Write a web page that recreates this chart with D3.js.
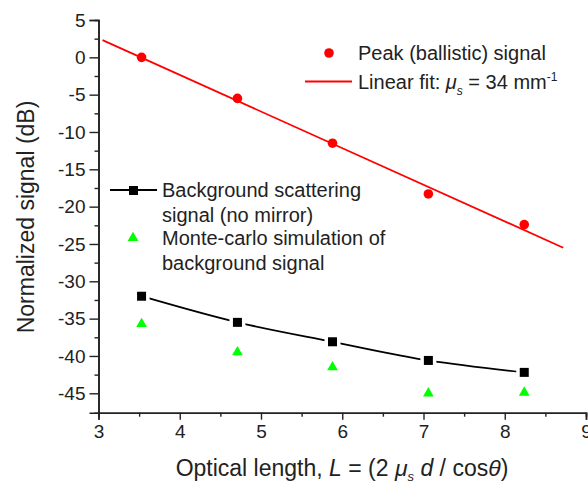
<!DOCTYPE html>
<html>
<head>
<meta charset="utf-8">
<script src="https://cdn.jsdelivr.net/npm/d3@7"></script>
<style>
  body { margin: 0; background: #fff; }
  svg { display: block; font-family: "Liberation Sans", Arial, sans-serif; }
</style>
</head>
<body>
<svg id="chart"></svg>
<script>
var viewWidth = 588;
var viewHeight = 485;

// data
var opticalLength = [3.53, 4.71, 5.88, 7.06, 8.24];
var peakSignal = [0, -5.5, -11.5, -18.3, -22.4];
var fitX = [3.05, 8.72];
var fitY = [2.3, -25.5];
var backgroundSignal = [-32.0, -35.5, -38.1, -40.6, -42.2];
var monteCarloSignal = [-35.7, -39.5, -41.5, -45.0, -44.9];
var xTicks = [3, 4, 5, 6, 7, 8, 9];
var yTicks = [5, 0, -5, -10, -15, -20, -25, -30, -35, -40, -45];

var svg = d3.select("#chart")
    .attr("width", viewWidth)
    .attr("height", viewHeight);

var xScale = d3.scaleLinear().domain([3, 9]).range([98.5, 586]);
var yScale = d3.scaleLinear().domain([5, -47.6]).range([20, 412.7]);

// axes
var xAxis = d3.axisBottom(xScale).tickValues(xTicks).tickSize(7).tickPadding(5).tickFormat(d3.format("d"));
var xMinor = d3.axisBottom(xScale).tickValues(d3.range(3.5, 9, 1)).tickSize(4).tickFormat("");
var yAxis = d3.axisLeft(yScale).tickValues(yTicks).tickSize(9).tickPadding(4).tickFormat(function(d){ return d; });
var yMinor = d3.axisLeft(yScale).tickValues(d3.range(2.5, -47.5, -5)).tickSize(4).tickFormat("");

function styleAxis(g) {
  g.select(".domain").attr("stroke", "#222").attr("stroke-width", 1.6);
  g.selectAll(".tick line").attr("stroke", "#222").attr("stroke-width", 1.4);
  g.selectAll(".tick text").attr("fill", "#222").style("font-size", "19px")
    .style("font-family", "'Liberation Sans', Arial, sans-serif");
}

svg.append("g").attr("transform", "translate(0," + yScale(-47.6) + ")").call(xMinor).call(styleAxis);
svg.append("g").attr("transform", "translate(0," + yScale(-47.6) + ")").call(xAxis).call(styleAxis);
svg.append("g").attr("transform", "translate(" + xScale(3) + ",0)").call(yMinor).call(styleAxis);
svg.append("g").attr("transform", "translate(" + xScale(3) + ",0)").call(yAxis).call(styleAxis);

// axis titles
svg.append("text")
  .attr("transform", "translate(34,217) rotate(-90)")
  .attr("text-anchor", "middle")
  .attr("fill", "#222")
  .style("font-size", "23px")
  .text("Normalized signal (dB)");

var xt = svg.append("text")
  .attr("x", 342).attr("y", 476)
  .attr("text-anchor", "middle")
  .attr("fill", "#222")
  .style("font-size", "23px");
xt.append("tspan").text("Optical length, ");
xt.append("tspan").attr("font-style", "italic").text("L");
xt.append("tspan").text(" = (2 ");
xt.append("tspan").attr("font-style", "italic").text("\u03bc");
xt.append("tspan").attr("font-style", "italic").attr("dy", 5).style("font-size", "13px").text("s");
xt.append("tspan").attr("dy", -5).text(" ");
xt.append("tspan").attr("font-style", "italic").text("d");
xt.append("tspan").text(" / cos");
xt.append("tspan").attr("font-style", "italic").text("\u03b8");
xt.append("tspan").text(")");

// linear fit
var line = d3.line().x(function(d){ return xScale(d[0]); }).y(function(d){ return yScale(d[1]); });
svg.append("path")
  .attr("d", line(d3.zip(fitX, fitY)))
  .attr("stroke", "#f00").attr("stroke-width", 1.8).attr("fill", "none");

// peak points
svg.selectAll(".peak").data(d3.zip(opticalLength, peakSignal)).enter()
  .append("circle")
  .attr("cx", function(d){ return xScale(d[0]); })
  .attr("cy", function(d){ return yScale(d[1]); })
  .attr("r", 4.8)
  .attr("fill", "#f00");

// background curve
var bgLine = d3.line().curve(d3.curveCatmullRom.alpha(0.5))
  .x(function(d){ return xScale(d[0]); }).y(function(d){ return yScale(d[1]); });
svg.append("path")
  .attr("d", bgLine(d3.zip(opticalLength, backgroundSignal)))
  .attr("stroke", "#000").attr("stroke-width", 1.8).attr("fill", "none");

svg.selectAll(".bggap").data(d3.zip(opticalLength, backgroundSignal)).enter()
  .append("rect")
  .attr("x", function(d){ return xScale(d[0]) - 8; })
  .attr("y", function(d){ return yScale(d[1]) - 8; })
  .attr("width", 16).attr("height", 16)
  .attr("fill", "#fff");
svg.selectAll(".bg").data(d3.zip(opticalLength, backgroundSignal)).enter()
  .append("rect")
  .attr("x", function(d){ return xScale(d[0]) - 4.5; })
  .attr("y", function(d){ return yScale(d[1]) - 4.5; })
  .attr("width", 9).attr("height", 9)
  .attr("fill", "#000");

// monte-carlo triangles
var tri = d3.symbol().type(d3.symbolTriangle).size(50);
svg.selectAll(".mc").data(d3.zip(opticalLength, monteCarloSignal)).enter()
  .append("path")
  .attr("d", tri)
  .attr("transform", function(d){ return "translate(" + xScale(d[0]) + "," + yScale(d[1]) + ")"; })
  .attr("fill", "#00ff00");

// legends
var lg = svg.append("g").attr("fill", "#222").style("font-size", "20px");
lg.append("circle").attr("cx", 329).attr("cy", 53).attr("r", 4.8).attr("fill", "#f00");
lg.append("text").attr("x", 358).attr("y", 60).text("Peak (ballistic) signal");
lg.append("line").attr("x1", 305).attr("x2", 352).attr("y1", 81.5).attr("y2", 81.5)
  .attr("stroke", "#f00").attr("stroke-width", 1.8);
var lf = lg.append("text").attr("x", 358).attr("y", 89);
lf.append("tspan").text("Linear fit: ");
lf.append("tspan").attr("font-style", "italic").text("\u03bc");
lf.append("tspan").attr("font-style", "italic").attr("dy", 6).style("font-size", "12px").text("s");
lf.append("tspan").attr("dy", -6).text(" = 34 mm");
lf.append("tspan").attr("dy", -8).style("font-size", "12px").text("-1");

lg.append("line").attr("x1", 110).attr("x2", 157).attr("y1", 190).attr("y2", 190)
  .attr("stroke", "#000").attr("stroke-width", 1.8);
lg.append("rect").attr("x", 129).attr("y", 186).attr("width", 9).attr("height", 9).attr("fill", "#000");
lg.append("text").attr("x", 162).attr("y", 197).text("Background scattering");
lg.append("text").attr("x", 162).attr("y", 222).text("signal (no mirror)");
lg.append("path").attr("d", tri).attr("transform", "translate(133,238)").attr("fill", "#00ff00");
lg.append("text").attr("x", 162).attr("y", 245).text("Monte-carlo simulation of");
lg.append("text").attr("x", 162).attr("y", 270).text("background signal");
</script>
</body>
</html>
